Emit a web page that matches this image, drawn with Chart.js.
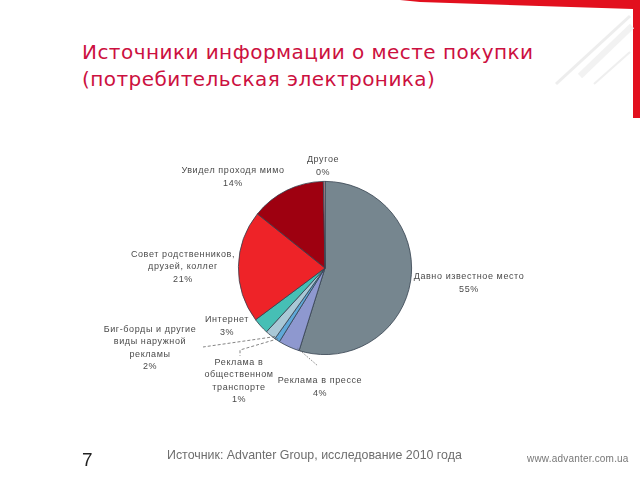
<!DOCTYPE html>
<html>
<head>
<meta charset="utf-8">
<script src="https://cdn.jsdelivr.net/npm/chart.js@4"></script>
<style>
  html, body { margin: 0; padding: 0; background: #fff; }
  body { width: 640px; height: 480px; position: relative; overflow: hidden; }
  #chart { position: absolute; left: 0; top: 0; }
  .title { position: absolute; left: 82px; top: 39px; color: #cc1040;
    font: 20px "DejaVu Sans", sans-serif; line-height: 27px; letter-spacing: 0.45px; white-space: nowrap; }
  .page { position: absolute; left: 82px; top: 449px; font: 19px "Liberation Sans", sans-serif; color: #222; }
  .src { position: absolute; left: 167px; top: 448px; font: 12.4px "Liberation Sans", sans-serif; color: #6e6e6e; }
  .url { position: absolute; left: 527px; top: 453px; font: 10px "Liberation Sans", sans-serif; color: #777; letter-spacing: 0.2px; }
  svg.deco { position: absolute; left: 0; top: 0; }
</style>
</head>
<body>
<svg class="deco" width="640" height="480">
  <polygon points="400,0 640,0 640,118 633,118 633,9 420,2" fill="#e2101e"/>
  <line x1="630" y1="16" x2="556" y2="84" stroke="#ededed" stroke-width="3"/>
  <line x1="632" y1="26" x2="580" y2="76" stroke="#f2f2f2" stroke-width="6"/>
  <line x1="630" y1="52" x2="594" y2="84" stroke="#efefef" stroke-width="2"/>
</svg>
<div class="title">Источники информации о месте покупки<br>(потребительская электроника)</div>
<canvas id="chart" width="640" height="480"></canvas>
<div class="page">7</div>
<div class="src">Источник: Advanter Group, исследование 2010 года</div>
<div class="url">www.advanter.com.ua</div>
<script>
const categories = [
  'Давно известное место',
  'Реклама в прессе',
  'Реклама в\nобщественном\nтранспорте',
  'Биг-борды и другие\nвиды наружной\nрекламы',
  'Интернет',
  'Совет родственников,\nдрузей, коллег',
  'Увидел проходя мимо',
  'Другое'
];
const shares = [55, 4, 1, 2, 3, 21, 14, 0.3];
const colors = ['#76868f', '#8e98cf', '#5fa8d8', '#a9c8d6', '#46bfb5', '#ee2328', '#9e0010', '#e89aa0'];

// label placement relative to pie centre; lead = leader line end relative to label centre
const labelPos = [
  { dx: 144, dy: 15 },
  { dx: -5, dy: 119, lead: [-2, -21], at: 0.1, dotted: true },
  { dx: -86, dy: 113, lead: [1, -31], at: 0.5, tick: true },
  { dx: -175, dy: 80, lead: [53, -1], at: 0.1 },
  { dx: -98, dy: 58 },
  { dx: -142, dy: -1 },
  { dx: -92, dy: -91 },
  { dx: -2, dy: -102 }
];

const sliceLabels = {
  id: 'sliceLabels',
  afterDatasetsDraw(chart) {
    const ctx = chart.ctx;
    const meta = chart.getDatasetMeta(0);
    ctx.save();
    ctx.font = '9px "Liberation Sans", sans-serif';
    ctx.letterSpacing = '0.6px';
    ctx.textAlign = 'center';
    ctx.textBaseline = 'middle';
    meta.data.forEach((arc, i) => {
      const p = arc.getProps(['x', 'y', 'startAngle', 'endAngle', 'outerRadius'], true);
      const o = labelPos[i];
      const lx = p.x + o.dx, ly = p.y + o.dy;
      const lines = categories[i].split('\n').concat(Math.round(shares[i]) + '%');
      const lh = 12.3;
      ctx.fillStyle = '#4a4a4a';
      lines.forEach((t, k) => {
        ctx.fillText(t, lx, ly + (k - (lines.length - 1) / 2) * lh);
      });
      if (o.lead) {
        const a = p.startAngle + (p.endAngle - p.startAngle) * o.at;
        const sx = p.x + Math.cos(a) * p.outerRadius * 0.98;
        const sy = p.y + Math.sin(a) * p.outerRadius * 0.98;
        const ex = lx + o.lead[0], ey = ly + o.lead[1];
        ctx.strokeStyle = '#666';
        ctx.lineWidth = 0.8;
        ctx.setLineDash(o.dotted ? [1.5, 1.5] : [3, 2]);
        ctx.beginPath();
        ctx.moveTo(sx, sy);
        ctx.lineTo(ex, ey);
        if (o.tick) ctx.lineTo(ex, ey + 6);
        ctx.stroke();
      }
    });
    ctx.restore();
  }
};

new Chart(document.getElementById('chart'), {
  type: 'pie',
  data: {
    labels: categories,
    datasets: [{
      data: shares,
      backgroundColor: colors,
      borderColor: '#34404e',
      borderWidth: 0.8
    }]
  },
  options: {
    responsive: false,
    animation: false,
    events: [],
    layout: { padding: { left: 238, right: 228, top: 181, bottom: 125 } },
    plugins: { legend: { display: false }, tooltip: { enabled: false } }
  },
  plugins: [sliceLabels]
});
</script>
</body>
</html>
